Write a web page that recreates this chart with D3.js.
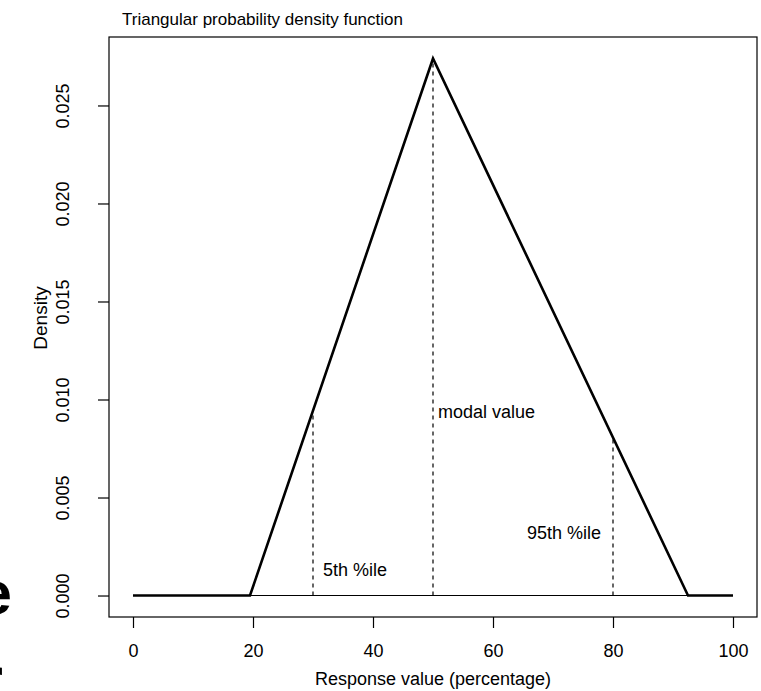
<!DOCTYPE html>
<html>
<head>
<meta charset="utf-8">
<script src="https://cdn.jsdelivr.net/npm/d3@7"></script>
<style>
  body { margin: 0; background: #fff; }
  text { font-family: "Liberation Sans", Arial, sans-serif; fill: #000; }
</style>
</head>
<body>
<div id="chart"></div>
<script>
// triangular distribution
var lower = 19.5, mode = 50, upper = 92.5;
var peak = 2 / (upper - lower);

// density curve (x, density)
var curveX = [0, lower, mode, upper, 100];
var curveY = [0, 0, peak, 0, 0];

// reference lines: x position, top density, label
var markX = [30, 50, 80];
var markTop = [peak * (30 - lower) / (mode - lower), peak, peak * (upper - 80) / (upper - mode)];
var markLabels = ["5th %ile", "modal value", "95th %ile"];

var xTicks = [0, 20, 40, 60, 80, 100];
var yTicks = [0, 0.005, 0.010, 0.015, 0.020, 0.025];

var w = 761, h = 691;
var margin = {top: 37, right: 4, bottom: 74, left: 109};
var width = w - margin.left - margin.right,
    height = h - margin.top - margin.bottom;

var svg = d3.select("#chart").append("svg")
    .attr("width", w)
    .attr("height", h);

var g = svg.append("g")
    .attr("transform", "translate(" + margin.left + "," + margin.top + ")");

// R style 4% padding on both axes
var x = d3.scaleLinear().domain([-4, 104]).range([0, width]);
var yPad = peak * 0.04;
var y = d3.scaleLinear().domain([-yPad, peak + yPad]).range([height, 0]);

// box
g.append("rect")
    .attr("width", width)
    .attr("height", height)
    .attr("fill", "none")
    .attr("stroke", "#000")
    .attr("stroke-width", 1.2);

// x axis
var xAxis = g.append("g")
    .attr("transform", "translate(0," + height + ")")
    .call(d3.axisBottom(x).tickValues(xTicks).tickSize(11).tickPadding(16).tickFormat(d3.format("d")));
xAxis.select(".domain").remove();
xAxis.selectAll("line").attr("stroke-width", 1.2);
xAxis.selectAll("text").attr("font-size", 18).attr("font-family", "Liberation Sans, Arial, sans-serif");

// y axis, labels rotated like R
var yAxis = g.append("g")
    .call(d3.axisLeft(y).tickValues(yTicks).tickSize(11).tickFormat(d3.format(".3f")));
yAxis.select(".domain").remove();
yAxis.selectAll("line").attr("stroke-width", 1.2);
yAxis.selectAll("text")
    .attr("font-size", 18)
    .attr("font-family", "Liberation Sans, Arial, sans-serif")
    .attr("x", null).attr("dy", null)
    .attr("text-anchor", "middle")
    .attr("transform", "translate(-40,0) rotate(-90)")
    .attr("y", 0);

// thin baseline under the triangle
g.append("line")
    .attr("x1", x(lower)).attr("x2", x(upper))
    .attr("y1", y(0)).attr("y2", y(0))
    .attr("stroke", "#000")
    .attr("stroke-width", 1.2);

// density curve
var line = d3.line()
    .x(function(d, i) { return x(curveX[i]); })
    .y(function(d, i) { return y(curveY[i]); });
g.append("path")
    .datum(curveX)
    .attr("d", line)
    .attr("fill", "none")
    .attr("stroke", "#000")
    .attr("stroke-width", 2.6)
    .attr("stroke-linejoin", "miter");

// dashed vertical lines
g.selectAll(".mark")
    .data(markX)
  .enter().append("line")
    .attr("class", "mark")
    .attr("x1", function(d) { return x(d); })
    .attr("x2", function(d) { return x(d); })
    .attr("y1", y(0))
    .attr("y2", function(d, i) { return y(markTop[i]); })
    .attr("stroke", "#000")
    .attr("stroke-width", 1.2)
    .attr("stroke-dasharray", "4,4");

// labels next to the dashed lines
var labelPos = [
  {dx: 10, d: 0.0013, anchor: "start"},
  {dx: 5, d: 0.0094, anchor: "start"},
  {dx: -12, d: 0.0032, anchor: "end"}
];
g.selectAll(".mlab")
    .data(markLabels)
  .enter().append("text")
    .attr("class", "mlab")
    .attr("x", function(d, i) { return x(markX[i]) + labelPos[i].dx; })
    .attr("y", function(d, i) { return y(labelPos[i].d); })
    .attr("dy", "0.35em")
    .attr("text-anchor", function(d, i) { return labelPos[i].anchor; })
    .attr("font-size", 18)
    .text(function(d) { return d; });

// titles
svg.append("text")
    .attr("x", 122)
    .attr("y", 25)
    .attr("font-size", 17)
    .text("Triangular probability density function");

svg.append("text")
    .attr("x", margin.left + width / 2)
    .attr("y", 685)
    .attr("text-anchor", "middle")
    .attr("font-size", 18)
    .text("Response value (percentage)");

svg.append("text")
    .attr("transform", "translate(47,318) rotate(-90)")
    .attr("text-anchor", "middle")
    .attr("font-size", 19)
    .text("Density");

// clipped letters from the neighbouring page on the left edge
svg.append("text")
    .attr("x", 12).attr("y", 614)
    .attr("text-anchor", "end")
    .attr("font-size", 62)
    .attr("font-weight", "bold")
    .text("e");
svg.append("text")
    .attr("x", 3).attr("y", 700)
    .attr("text-anchor", "end")
    .attr("font-size", 62)
    .attr("font-weight", "bold")
    .text("r");
</script>
</body>
</html>
